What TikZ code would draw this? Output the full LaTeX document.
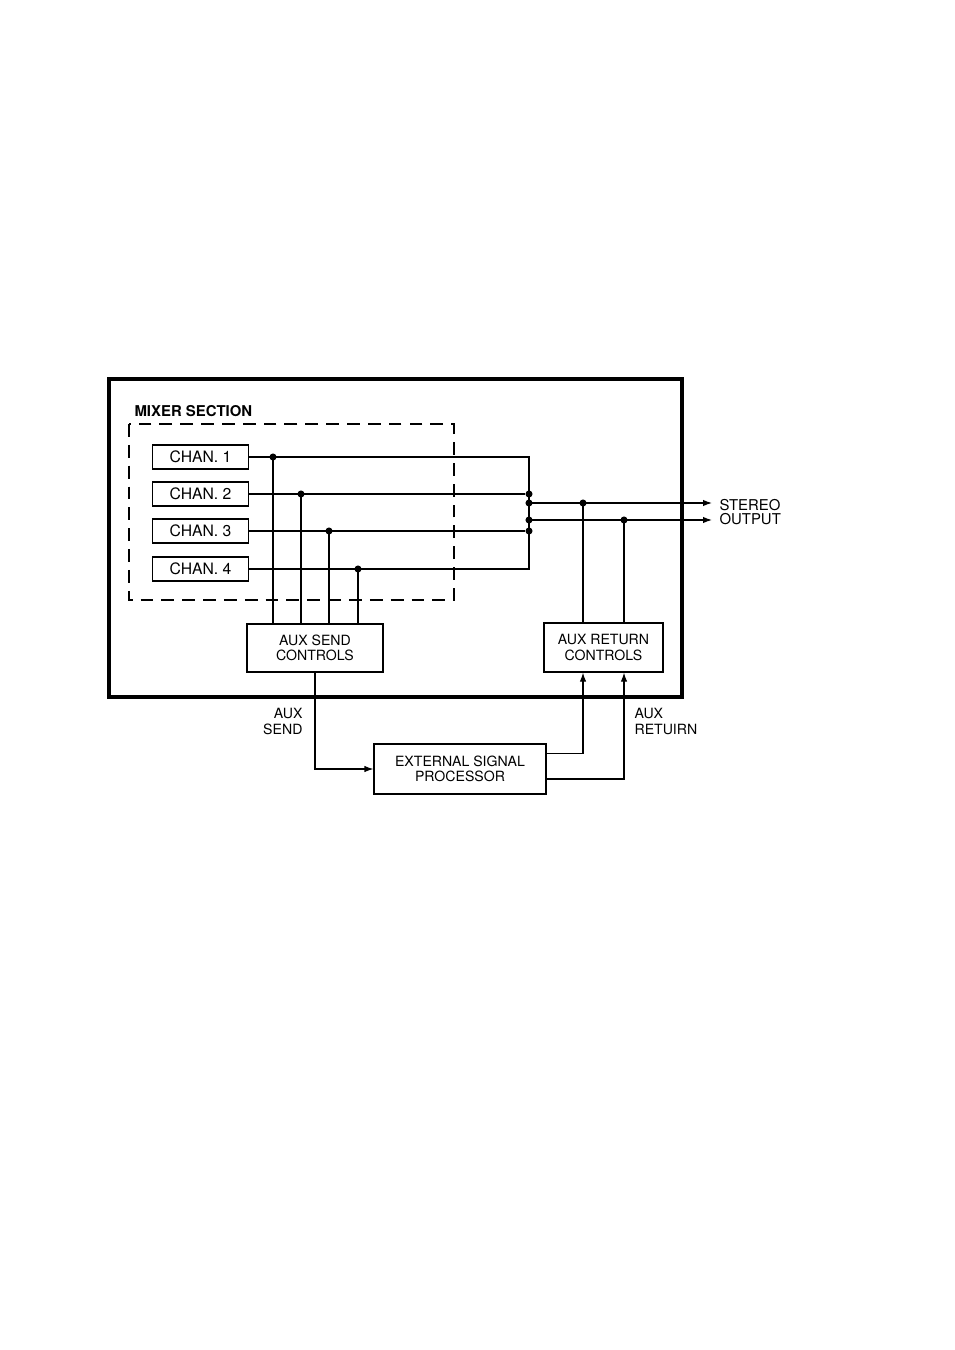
\documentclass[tikz,border=0pt]{standalone}
\usepackage{fontspec}
\setmainfont{TeX Gyre Heros}
\usetikzlibrary{arrows.meta,positioning}

\begin{document}
\begin{tikzpicture}[x=0.6237pt, y=-0.6237pt, line width=0.7pt,
  every node/.style={font=\fontsize{9.8}{9.8}\selectfont},
  chan/.style={draw, minimum width=60pt, minimum height=15pt, inner sep=0pt},
  ctrl/.style={draw, align=center, inner sep=0pt, font=\fontsize{8.8}{9.4}\selectfont},
  lbl/.style={inner sep=0pt, font=\fontsize{8.8}{9.4}\selectfont},
  dot/.style={circle, fill, inner sep=0pt, minimum size=4.4pt},
  sig/.style={-{Latex[length=5.6pt,width=4pt]}}]
\useasboundingbox (0,0) rectangle (954,1350);

\draw[line width=2.2pt] (109,379) rectangle (682,697);
\draw[dash pattern=on 8pt off 5pt, line width=1pt] (129,424) rectangle (454,600);
\node[anchor=west, inner sep=0pt, font=\fontsize{9.3}{9.3}\selectfont\bfseries] (mix) at (134,411) {MIXER SECTION};

\node[chan] (ch1) at (200.5,457) {CHAN. 1};
\node[chan] (ch2) at (200.5,494) {CHAN. 2};
\node[chan] (ch3) at (200.5,531) {CHAN. 3};
\node[chan] (ch4) at (200.5,569) {CHAN. 4};

\node[ctrl, minimum width=84.8pt, minimum height=30pt] (send) at (315,648) {AUX SEND\\CONTROLS};
\node[ctrl, minimum width=74.2pt, minimum height=30.6pt] (ret) at (603.5,647.5) {AUX RETURN\\CONTROLS};
\node[ctrl, minimum width=107.3pt, minimum height=31.2pt] (esp) at (460,769) {EXTERNAL SIGNAL\\PROCESSOR};

\node[dot] (d1) at (273,457) {};
\node[dot] (d2) at (301,494) {};
\node[dot] (d3) at (329,531) {};
\node[dot] (d4) at (358,569) {};
\node[dot] (j2) at (529,494) {};
\node[dot] (j3) at (529,531) {};
\node[dot] (s1) at (529,503) {};
\node[dot] (s2) at (529,520) {};
\node[dot] (r1) at (583,503) {};
\node[dot] (r2) at (624,520) {};
\coordinate (b1) at (529,457);
\coordinate (b4) at (529,569);
\coordinate (o1) at (712,503);
\coordinate (o2) at (712,520);

\draw (ch1.east) -- (b1) -- (b4) -- (ch4.east);
\draw (ch2.east) -- (j2);
\draw (ch3.east) -- (j3);
\foreach \d in {d1,d2,d3,d4}
  \draw (\d.center) -- (\d.center |- send.north);
\draw[sig] (s1.center) -- (o1);
\draw[sig] (s2.center) -- (o2);
\draw (r1.center) -- (r1.center |- ret.north);
\draw (r2.center) -- (r2.center |- ret.north);

\draw[sig] (send.south) |- (esp.west);
\draw[sig] ([yshift=9.4pt]esp.east) -| (ret.south -| r1);
\draw[sig] ([yshift=-6.2pt]esp.east) -| (ret.south -| r2);

\node[lbl, anchor=west, align=left, font=\fontsize{9.3}{8.8}\selectfont] (stereo) at (719,512) {STEREO\\OUTPUT};
\node[lbl, anchor=east, align=right] (auxs) at (303,721.5) {AUX\\SEND};
\node[lbl, anchor=west, align=left] (auxr) at (634,721.5) {AUX\\RETUIRN};
\end{tikzpicture}
\end{document}
